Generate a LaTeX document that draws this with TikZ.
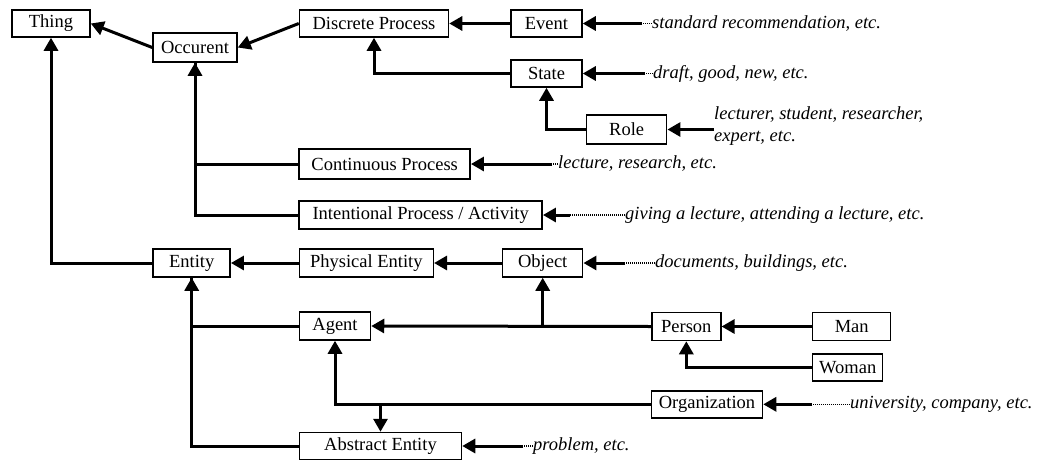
\documentclass[tikz,border=0pt]{standalone}
\usepackage{fontspec}
\setmainfont{Liberation Serif}
\usetikzlibrary{arrows.meta}
\tikzset{
  box/.style={draw, line width=1.5pt, inner sep=0pt, font=\fontsize{18.5}{20}\selectfont},
  inst/.style={inner sep=0pt, anchor=west, font=\fontsize{18.5}{22}\selectfont\itshape, align=left},
  arr/.style={line width=3pt, -{Triangle[length=13pt,width=14pt]}},
  link/.style={line width=3pt},
  dots/.style={line width=1.6pt, dash pattern=on 1pt off 1pt}
}
\begin{document}
\begin{tikzpicture}[x=1pt,y=-1pt]
\useasboundingbox (0,0) rectangle (1047,461);
% class boxes
\node[box, minimum width=78pt, minimum height=27pt] (thing) at (51,23.5) {Thing};
\node[box, minimum width=84pt, minimum height=29pt] (occ) at (195,47.5) {Occurent};
\node[box, minimum width=149pt, minimum height=27pt] (disc) at (374,23.5) {Discrete Process};
\node[box, minimum width=71pt, minimum height=27pt] (event) at (546.5,23.5) {Event};
\node[box, minimum width=71pt, minimum height=27pt] (state) at (546.5,73.5) {State};
\node[box, minimum width=80pt, minimum height=29pt] (role) at (626.7,129.5) {Role};
\node[box, minimum width=171pt, minimum height=30pt] (cont) at (384.7,164) {Continuous Process};
\node[box, minimum width=243pt, minimum height=28pt] (int) at (420.7,215) {Intentional Process / Activity};
\node[box, minimum width=77pt, minimum height=28pt] (entity) at (191.7,263) {Entity};
\node[box, minimum width=134pt, minimum height=28pt] (phys) at (366.3,263) {Physical Entity};
\node[box, minimum width=80pt, minimum height=28pt] (object) at (542.7,263) {Object};
\node[box, minimum width=71pt, minimum height=28pt] (agent) at (335,326) {Agent};
\node[box, minimum width=69pt, minimum height=28pt] (person) at (686.3,326.5) {Person};
\node[box, minimum width=78pt, minimum height=28pt] (man) at (851.7,326.5) {Man};
\node[box, minimum width=70pt, minimum height=27pt] (woman) at (847.7,367.7) {Woman};
\node[box, minimum width=111pt, minimum height=27pt] (org) at (707,404.3) {Organization};
\node[box, minimum width=162pt, minimum height=27pt] (abs) at (380.5,446) {Abstract Entity};
% instance texts
\node[inst] (t1) at (652,23.5) {standard recommendation, etc.};
\node[inst] (t2) at (653,73.5) {draft, good, new, etc.};
\node[inst] (t3) at (714,126) {lecturer, student, researcher,\\expert, etc.};
\node[inst] (t4) at (558,164) {lecture, research, etc.};
\node[inst] (t5) at (625,215) {giving a lecture, attending a lecture, etc.};
\node[inst] (t6) at (655,263) {documents, buildings, etc.};
\node[inst] (t7) at (850,404.3) {university, company, etc.};
\node[inst] (t8) at (533,446) {problem, etc.};
% subclass links
\draw[arr] (occ.west) -- (thing.east);
\draw[arr] (disc.west) -- (occ.east);
\draw[arr] (event.west) -- (disc.east);
\draw[arr] (state.west) -| (disc.south);
\draw[arr] (role.west) -| (state.south);
\draw[arr] (cont.west) -| (occ.south);
\draw[link] (int.west) -| (occ.south);
\draw[arr] (entity.west) -| (thing.south);
\draw[arr] (phys.west) -- (entity.east);
\draw[arr] (object.west) -- (phys.east);
\draw[arr] (agent.west) -| (entity.south);
\draw[link] (abs.west) -| (entity.south);
\draw[arr] (person.west) -- (agent.east);
\coordinate (pj) at (object.south |- person.west);
\draw[arr] (pj) -- (object.south);
\draw[arr] (man.west) -- (person.east);
\draw[arr] (woman.west) -| (person.south);
\draw[arr] (org.west) -| (agent.south);
\coordinate (oj) at (abs.north |- org.west);
\draw[arr] (oj) -- (abs.north);
% instance links
\draw[dots] (t1.west) -- ++(-10,0) coordinate (c1);
\draw[arr] (c1) -- (event.east);
\draw[dots] (t2.west) -- ++(-8,0) coordinate (c2);
\draw[arr] (c2) -- (state.east);
\draw[arr] (t3.west |- role.east) -- (role.east);
\draw[dots] (t4.west) -- ++(-6,0) coordinate (c4);
\draw[arr] (c4) -- (cont.east);
\draw[dots] (t5.west) -- ++(-55,0) coordinate (c5);
\draw[arr] (c5) -- (int.east);
\draw[dots] (t6.west) -- ++(-30,0) coordinate (c6);
\draw[arr] (c6) -- (object.east);
\draw[dots] (t7.west) -- ++(-38,0) coordinate (c7);
\draw[arr] (c7) -- (org.east);
\draw[dots] (t8.west) -- ++(-10,0) coordinate (c8);
\draw[arr] (c8) -- (abs.east);
\end{tikzpicture}
\end{document}
